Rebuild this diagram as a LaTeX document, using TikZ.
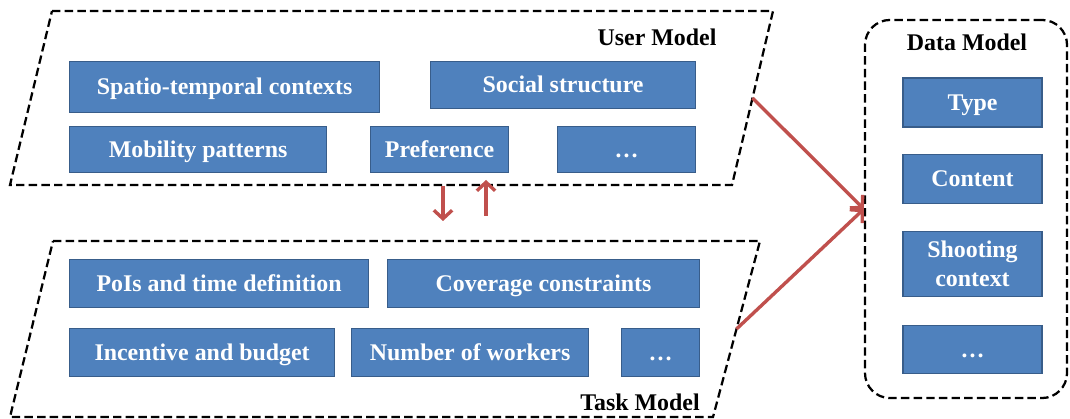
\documentclass[tikz,border=0pt]{standalone}
\usepackage{fontspec}
\setmainfont{Liberation Serif}
\usetikzlibrary{positioning,arrows.meta,calc}

\definecolor{boxblue}{HTML}{4F81BD}
\definecolor{boxedge}{HTML}{385D8A}
\definecolor{linkred}{HTML}{C0504D}

\begin{document}
\begin{tikzpicture}[
        x=0.025cm, y=-0.025cm,
        box/.style={rectangle, draw=boxedge, fill=boxblue, line width=0.8pt, text=white, font=\bfseries\fontsize{17}{20.5}\selectfont, minimum height=1.2cm, inner sep=2pt, align=center, text height=14pt, text depth=3pt},
        frame/.style={draw=black, dash pattern=on 6pt off 3pt, line width=1.6pt},
        title/.style={font=\bfseries\fontsize{17}{20.5}\selectfont},
        link/.style={draw=linkred, line width=2.4pt, -{Straight Barb[length=6pt,width=13pt,line width=2.4pt]}},
        node distance=0.65cm and 1.1cm
    ]
    \useasboundingbox (0,0) rectangle (1070,419);

    % user model frame
    \coordinate (uul) at (52,11);
    \coordinate (uur) at (773,11);
    \coordinate (ulr) at (732,185);
    \coordinate (ull) at (10,185);
    \draw[frame] (uul) -- (uur) -- (ulr) -- (ull) -- cycle;
    \node[title] (utitle) at (657,37) {User Model};

    \node[box, anchor=north west, minimum width=7.75cm, minimum height=1.275cm] (spatio)  at (69,61)  {Spatio-temporal contexts};
    \node[box, anchor=north west, minimum width=6.625cm, minimum height=1.175cm] (social)  at (430,61) {Social structure};
    \node[box, anchor=north west, minimum width=6.425cm, minimum height=1.15cm] (mobility) at (69,126) {Mobility patterns};
    \node[box, anchor=north west, minimum width=3.45cm, minimum height=1.15cm]  (pref)     at (370,126) {Preference};
    \node[box, anchor=north west, minimum width=3.45cm, minimum height=1.15cm]  (udots)    at (557,126) {\dots};

    % task model frame
    \coordinate (tul) at (53,241);
    \coordinate (tur) at (760,241);
    \coordinate (tlr) at (713,417);
    \coordinate (tll) at (10,417);
    \draw[frame] (tul) -- (tur) -- (tlr) -- (tll) -- cycle;
    \node[title] (ttitle) at (640,402) {Task Model};

    \node[box, anchor=north west, minimum width=7.475cm] (pois)      at (69,259)  {PoIs and time definition};
    \node[box, anchor=north west, minimum width=7.8cm]   (coverage)  at (387,259) {Coverage constraints};
    \node[box, anchor=north west, minimum width=6.625cm] (incentive) at (69,328)  {Incentive and budget};
    \node[box, anchor=north west, minimum width=5.925cm] (workers)   at (351,328) {Number of workers};
    \node[box, anchor=north west, minimum width=1.95cm]  (tdots)     at (621,328) {\dots};

    % data model frame
    \node[frame, rounded corners=0.625cm, minimum width=5.05cm, minimum height=9.45cm] (dm) at (966,209) {};
    \node[title] (dtitle) at (967,42) {Data Model};

    \node[box, minimum width=3.475cm, minimum height=1.225cm] (type)     at (972.5,102.5) {Type};
    \node[box, minimum width=3.475cm, minimum height=1.225cm] (content)  [below=0.65cm of type] {Content};
    \node[box, minimum width=3.475cm, minimum height=1.625cm, text height=, text depth=] (shooting) [below=0.675cm of content] {Shooting\\context};
    \node[box, minimum width=3.475cm, minimum height=1.2cm]   (ddots)    [below=0.7cm of shooting] {\dots};

    % links
    \coordinate (umid) at ($(uur)!0.5!(ulr)$);
    \coordinate (tmid) at ($(tur)!0.5!(tlr)$);
    \draw[link] (umid) -- (dm.west);
    \draw[link] (tmid) -- (dm.west);

    \coordinate (down1) at (443,186);
    \coordinate (down2) at (443,221);
    \coordinate (up1)   at (486,216);
    \coordinate (up2)   at (486,180);
    \draw[link] (down1) -- (down2);
    \draw[link] (up1) -- (up2);
\end{tikzpicture}
\end{document}
